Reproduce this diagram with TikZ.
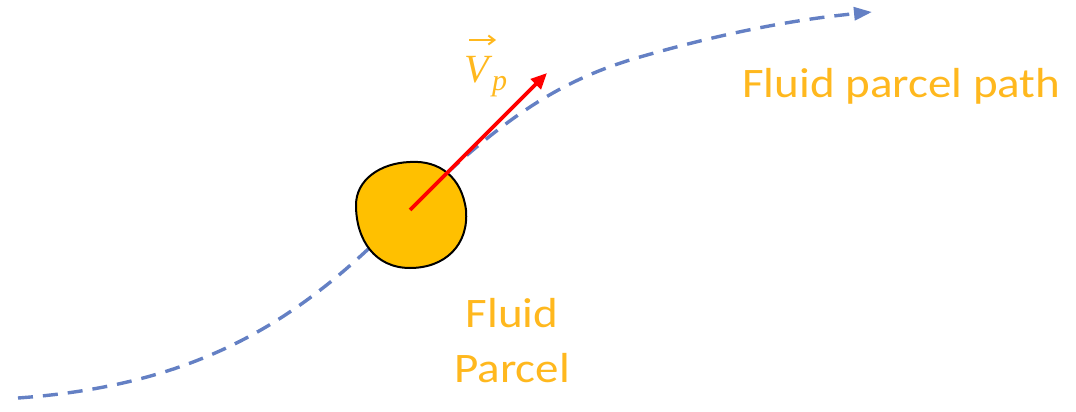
\documentclass[tikz,border=0pt]{standalone}
\usepackage{fontspec}
\setsansfont{Carlito}
\newfontfamily\symserif{Liberation Serif}
\usetikzlibrary{arrows.meta}
\definecolor{pathblue}{RGB}{100,128,196}
\definecolor{parcel}{RGB}{255,192,0}
\definecolor{labelorange}{RGB}{255,184,30}
\tikzset{
  pathline/.style={pathblue, line width=3.4pt, dash pattern=on 15pt off 10pt, -{Triangle[length=18pt,width=13pt]}},
  parcelshape/.style={draw=black, line width=2pt, fill=parcel},
  velarrow/.style={red, line width=3.6pt, -{Triangle[length=16pt,width=14pt]}},
  lbl/.style={text=labelorange, font=\sffamily\fontsize{42}{55}\selectfont, inner sep=0pt, xscale=1.12},
  vlbl/.style={text=labelorange, inner sep=0pt, font=\symserif\itshape},
  vecbar/.style={labelorange, line width=2pt, -{Straight Barb[length=6pt,width=9pt]}}
}
\begin{document}
\begin{tikzpicture}[x=1pt,y=-1pt]
\useasboundingbox (0,0) rectangle (1076,412);
\coordinate (s) at (18,398);
\coordinate (e) at (872,12);
\draw[pathline] (s) .. controls (200,385) and (300,320) .. (400,218)
  .. controls (500,118) and (560,80) .. (640,57)
  .. controls (720,34) and (790,20) .. (e);
\draw[parcelshape] (356,205) .. controls (356,180) and (380,163) .. (410,162)
  .. controls (440,160) and (462,178) .. (466,210)
  .. controls (469,245) and (445,268) .. (410,268)
  .. controls (375,268) and (356,240) .. (356,205) -- cycle;
\coordinate (c) at (410,210);
\coordinate (v) at (547,73);
\draw[velarrow] (c) -- (v);
\node[vlbl, anchor=base west, font=\symserif\itshape\fontsize{40}{44}\selectfont] (vv) at (464,82) {V};
\node[vlbl, anchor=base west, font=\symserif\itshape\fontsize{30}{34}\selectfont] (vsub) at (492,90) {p};
\coordinate (ba) at (469,40);
\coordinate (bb) at (496,40);
\draw[vecbar] (ba) -- (bb);
\node[lbl, anchor=base west] (fpp) at (742,97) {Fluid parcel path};
\node[lbl, anchor=base] (fl) at (512,327) {Fluid};
\node[lbl, anchor=base] (pc) at (512,382) {Parcel};
\end{tikzpicture}
\end{document}
